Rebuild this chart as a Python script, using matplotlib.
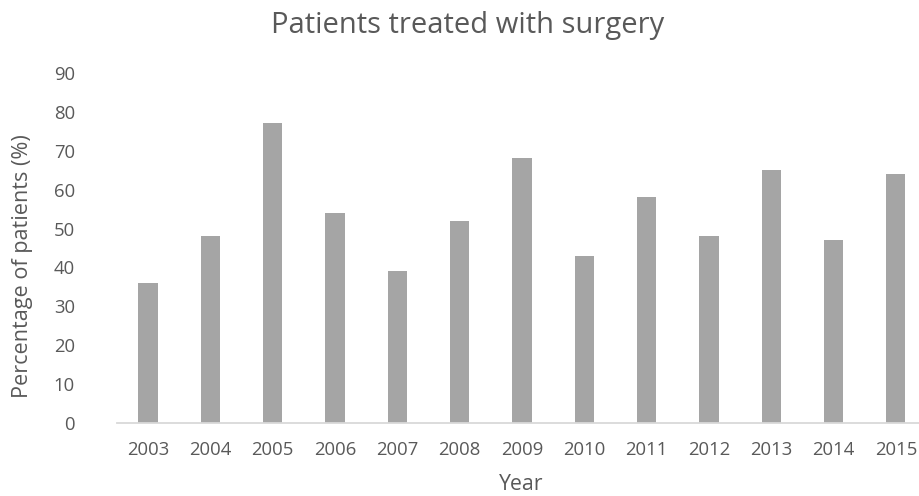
import matplotlib
matplotlib.use("Agg")
import matplotlib.pyplot as plt

years = ["2003", "2004", "2005", "2006", "2007", "2008", "2009",
         "2010", "2011", "2012", "2013", "2014", "2015"]
percent_surgery = [36, 48, 77, 54, 39, 52, 68, 43, 58, 48, 65, 47, 64]
y_ticks = [0, 10, 20, 30, 40, 50, 60, 70, 80, 90]

W, H = 920, 496
text_color = "#595959"
plt.rcParams["font.family"] = ["Open Sans", "DejaVu Sans"]

fig = plt.figure(figsize=(W / 100, H / 100), dpi=100)
fig.patch.set_facecolor("white")

left, right = 116.7, 927.0
top, bottom = 72.7, 423.3
ax = fig.add_axes([left / W, 1 - bottom / H, (right - left) / W, (bottom - top) / H])

x = range(len(years))
ax.bar(x, percent_surgery, width=0.31, color="#a5a5a5", zorder=2)

ax.set_xlim(-0.5, len(years) - 0.5)
ax.set_ylim(0, 90)
ax.set_yticks(y_ticks)
ax.set_yticklabels([str(v) for v in y_ticks])
ax.set_xticks(list(x))
ax.set_xticklabels(years)

for side in ("top", "right", "left"):
    ax.spines[side].set_visible(False)
ax.spines["bottom"].set_color("#d9d9d9")
ax.spines["bottom"].set_linewidth(1.3)

ax.tick_params(axis="both", length=0, labelsize=13.3, labelcolor=text_color)
ax.tick_params(axis="y", pad=30)
ax.tick_params(axis="x", pad=13)

fig.text(521 / W, 1 - 485 / H, "Year", ha="center", va="center",
         fontsize=15.3, color=text_color)
fig.text(23 / W, 1 - 266 / H, "Percentage of patients (%)", rotation=90,
         ha="center", va="center", fontsize=15.6, color=text_color)

fig.text(468 / W, 1 - 25 / H, "Patients treated with surgery",
         ha="center", va="center", fontsize=21, color=text_color)

fig.savefig("out.png", dpi=100, facecolor="white")
